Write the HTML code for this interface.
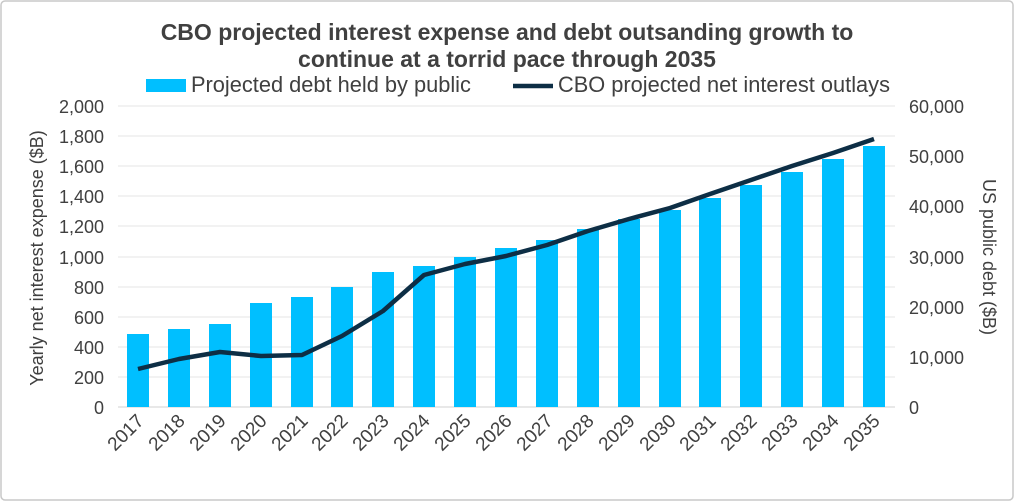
<!DOCTYPE html>
<html><head><meta charset="utf-8"><style>
html,body{margin:0;padding:0;background:#fff;}
svg{display:block;font-family:"Liberation Sans",Arial,sans-serif;}
</style></head><body>
<svg width="1014" height="501" viewBox="0 0 1014 501" xmlns="http://www.w3.org/2000/svg">
<rect x="1" y="1" width="1012" height="499" rx="4" fill="#fff" stroke="#c8c8c8" stroke-width="1.5"/>
<text x="507" y="40" text-anchor="middle" font-size="23" font-weight="bold" fill="#404040">CBO projected interest expense and debt outsanding growth to</text>
<text x="507" y="67" text-anchor="middle" font-size="23" font-weight="bold" fill="#404040">continue at a torrid pace through 2035</text>
<rect x="146" y="79" width="40" height="13" fill="#00bfff"/>
<text x="191" y="92" font-size="21.8" fill="#404040">Projected debt held by public</text>
<line x1="513" y1="86" x2="553" y2="86" stroke="#0d2e45" stroke-width="4.5"/>
<text x="558" y="92" font-size="21.8" fill="#404040">CBO projected net interest outlays</text>
<g stroke="#e6e6e6" stroke-width="1">
<line x1="118" y1="106" x2="895" y2="106"/><line x1="118" y1="136" x2="895" y2="136"/><line x1="118" y1="166" x2="895" y2="166"/><line x1="118" y1="196" x2="895" y2="196"/><line x1="118" y1="226" x2="895" y2="226"/><line x1="118" y1="257" x2="895" y2="257"/><line x1="118" y1="287" x2="895" y2="287"/><line x1="118" y1="317" x2="895" y2="317"/><line x1="118" y1="347" x2="895" y2="347"/><line x1="118" y1="377" x2="895" y2="377"/>
</g>
<line x1="118" y1="407" x2="895" y2="407" stroke="#d0d0d0"/>
<g fill="#00bfff">
<rect x="127" y="334" width="22" height="73"/><rect x="168" y="329" width="22" height="78"/><rect x="209" y="324" width="22" height="83"/><rect x="250" y="303" width="22" height="104"/><rect x="291" y="297" width="22" height="110"/><rect x="331" y="287" width="22" height="120"/><rect x="372" y="272" width="22" height="135"/><rect x="413" y="266" width="22" height="141"/><rect x="454" y="257" width="22" height="150"/><rect x="495" y="248" width="22" height="159"/><rect x="536" y="240" width="22" height="167"/><rect x="577" y="229" width="22" height="178"/><rect x="618" y="219" width="22" height="188"/><rect x="659" y="210" width="22" height="197"/><rect x="699" y="198" width="22" height="209"/><rect x="740" y="185" width="22" height="222"/><rect x="781" y="172" width="22" height="235"/><rect x="822" y="159" width="22" height="248"/><rect x="863" y="146" width="22" height="261"/>
</g>
<polyline fill="none" stroke="#0d2e45" stroke-width="4.5" stroke-linejoin="round" points="138,369 179,359 220,352 261,356 302,355 342,336 383,311 424,275 465,264 506,256 547,245 588,231 629,219 670,208 710,194 751,180 792,166 833,153 874,139"/>
<g font-size="18" fill="#404040" text-anchor="end">
<text x="104" y="113">2,000</text><text x="104" y="143">1,800</text><text x="104" y="173">1,600</text><text x="104" y="203">1,400</text><text x="104" y="233">1,200</text><text x="104" y="264">1,000</text><text x="104" y="294">800</text><text x="104" y="324">600</text><text x="104" y="354">400</text><text x="104" y="384">200</text><text x="104" y="414">0</text>
</g>
<g font-size="18" fill="#404040" text-anchor="start">
<text x="909" y="113">60,000</text><text x="909" y="163">50,000</text><text x="909" y="213">40,000</text><text x="909" y="264">30,000</text><text x="909" y="314">20,000</text><text x="909" y="364">10,000</text><text x="909" y="414">0</text>
</g>
<text transform="translate(43,258) rotate(-90)" text-anchor="middle" font-size="18" fill="#404040">Yearly net interest expense ($B)</text>
<text transform="translate(983,257) rotate(90)" text-anchor="middle" font-size="18" fill="#404040">US public debt ($B)</text>
<g font-size="19" fill="#404040" text-anchor="end">
<text transform="translate(145,422) rotate(-45)">2017</text><text transform="translate(186,422) rotate(-45)">2018</text><text transform="translate(227,422) rotate(-45)">2019</text><text transform="translate(268,422) rotate(-45)">2020</text><text transform="translate(309,422) rotate(-45)">2021</text><text transform="translate(349,422) rotate(-45)">2022</text><text transform="translate(390,422) rotate(-45)">2023</text><text transform="translate(431,422) rotate(-45)">2024</text><text transform="translate(472,422) rotate(-45)">2025</text><text transform="translate(513,422) rotate(-45)">2026</text><text transform="translate(554,422) rotate(-45)">2027</text><text transform="translate(595,422) rotate(-45)">2028</text><text transform="translate(636,422) rotate(-45)">2029</text><text transform="translate(677,422) rotate(-45)">2030</text><text transform="translate(717,422) rotate(-45)">2031</text><text transform="translate(758,422) rotate(-45)">2032</text><text transform="translate(799,422) rotate(-45)">2033</text><text transform="translate(840,422) rotate(-45)">2034</text><text transform="translate(881,422) rotate(-45)">2035</text>
</g>
</svg>
</body></html>
